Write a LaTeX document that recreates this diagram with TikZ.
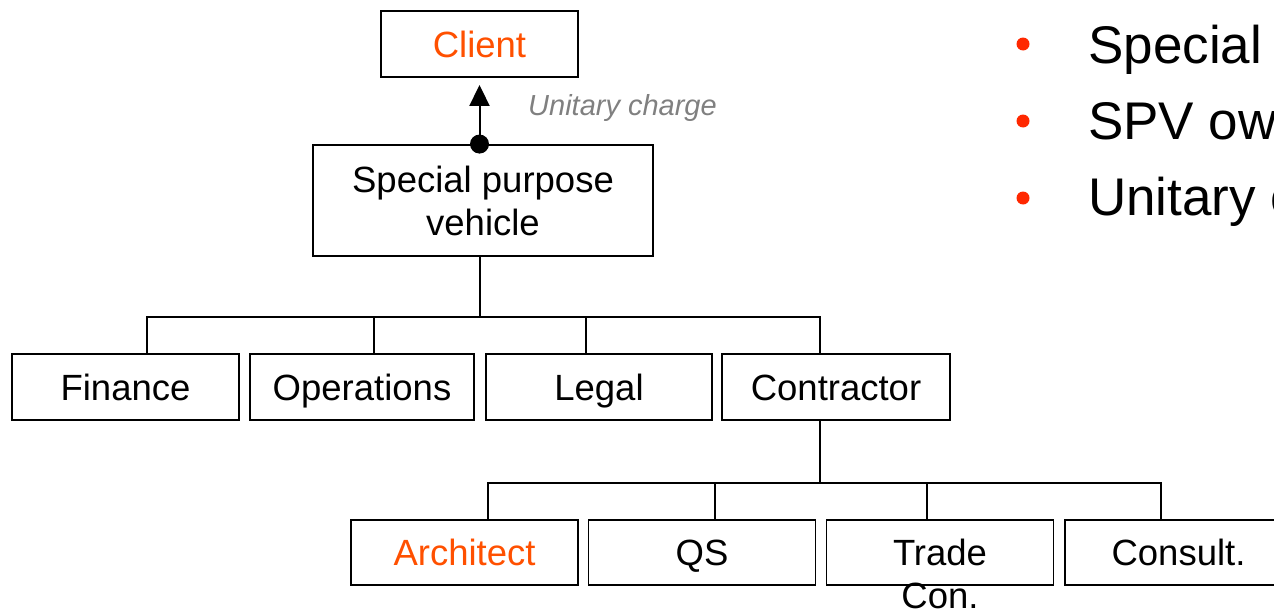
\documentclass[tikz,border=0pt]{standalone}
\usepackage{fontspec}
\setmainfont{Liberation Sans}
\usetikzlibrary{arrows.meta}
\definecolor{accent}{RGB}{255,80,0}
\definecolor{bulletred}{RGB}{255,40,0}
\definecolor{labelgray}{RGB}{128,128,128}
\tikzset{
  box/.style={draw=black, line width=1.9pt, inner sep=0pt, font=\fontsize{36.5}{43}\selectfont,
    text height=26pt, text depth=0pt},
  conn/.style={line width=1.5pt},
  bullettext/.style={anchor=base west, inner sep=0pt, font=\fontsize{53}{60}\selectfont},
}
\begin{document}
\begin{tikzpicture}[x=1pt, y=-1pt]
\useasboundingbox (0,0) rectangle (1274,613);
% top
\node[box, minimum width=197, minimum height=66, text=accent] (client) at (479.5,44) {Client};
\node[box, minimum width=340, minimum height=111, align=center, text height=, text depth=] (spv) at (483,200.5) {Special purpose\\vehicle};
% row 2
\node[box, minimum width=227, minimum height=66] (fin) at (125.5,387) {Finance};
\node[box, minimum width=224, minimum height=66] (ops) at (362,387) {Operations};
\node[box, minimum width=226, minimum height=66] (leg) at (599,387) {Legal};
\node[box, minimum width=228, minimum height=66] (con) at (836,387) {Contractor};
% row 3
\node[box, minimum width=227, minimum height=65, text=accent] (arch) at (464.5,552.5) {Architect};
\node[box, minimum width=227, minimum height=65] (qs) at (702,552.5) {QS};
\node[box, minimum width=227, minimum height=65] (trade) at (940,552.5) {\smash{\begin{tabular}[t]{@{}c@{}}Trade\\Con.\end{tabular}}};
\node[box, minimum width=227, minimum height=65] (cons) at (1178.5,552.5) {Consult.};
% arrow
\draw[line width=2pt, -{Triangle[width=20pt,length=21pt]}, shorten >=7pt] (spv.north -| client.south) -- (client.south);
\fill (spv.north -| client.south) circle (9.5);
\node[anchor=west, inner sep=0pt, text=labelgray, font=\fontsize{29}{34}\selectfont\itshape] (uc) at (528,108) {Unitary charge};
% tree level 1
\draw[conn] (spv.south -| 480,0) -- (480,317);
\draw[conn] (fin.north -| 147,0) -- (147,317) -- (820,317) -- (con.north -| 820,0);
\draw[conn] (ops.north -| 374,0) -- (374,317);
\draw[conn] (leg.north -| 586,0) -- (586,317);
% tree level 2
\draw[conn] (con.south -| 820,0) -- (820,483);
\draw[conn] (arch.north -| 488,0) -- (488,483) -- (1161,483) -- (cons.north -| 1161,0);
\draw[conn] (qs.north -| 715,0) -- (715,483);
\draw[conn] (trade.north -| 927,0) -- (927,483);
% bullets
\fill[bulletred] (1023,44) circle (6.5);
\fill[bulletred] (1023,121) circle (6.5);
\fill[bulletred] (1023,198) circle (6.5);
\node[bullettext] (b1) at (1088,63) {Special};
\node[bullettext] (b2) at (1088,139) {SPV ow};
\node[bullettext] (b3) at (1088,215) {Unitary c};
\end{tikzpicture}
\end{document}
